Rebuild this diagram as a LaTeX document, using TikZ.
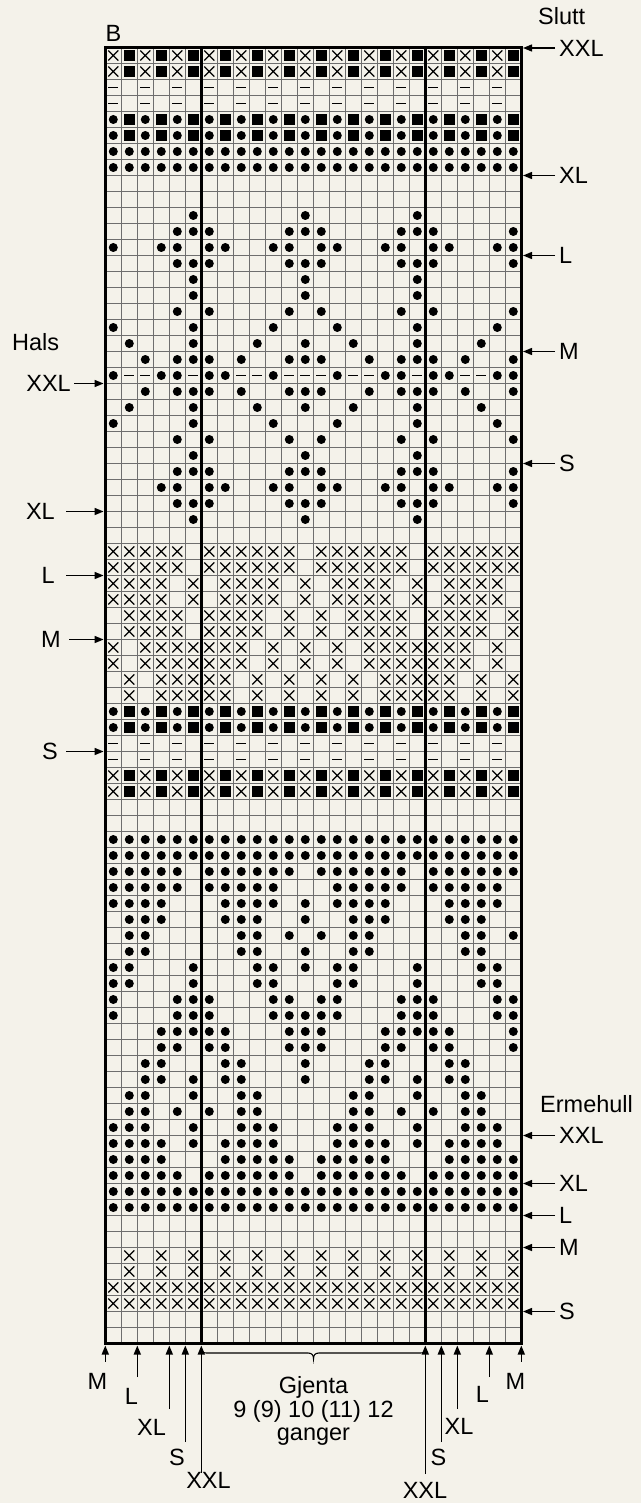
\documentclass[tikz,border=0pt]{standalone}
\usepackage{fontspec}
\setmainfont{Liberation Sans}
\usetikzlibrary{arrows.meta}
\definecolor{bgc}{HTML}{F4F2EA}
\definecolor{gridc}{HTML}{6E6E6E}
% cell centre: x = 97.3+16c, y = 39.5+16r
\newcommand\chD[2]{\foreach \c in {#2}{\fill ({97.3+16*\c},{39.5+16*#1}) circle[radius=4.5pt];}}
\newcommand\chS[2]{\foreach \c in {#2}{\fill ({97.3+16*\c-5.6},{39.5+16*#1-5.6}) rectangle ++(11.2,11.2);}}
\newcommand\chX[2]{\foreach \c in {#2}{\draw[line width=1.3pt] ({97.3+16*\c-5},{39.5+16*#1-5}) -- ++(10,10) ({97.3+16*\c-5},{39.5+16*#1+5}) -- ++(10,-10);}}
\newcommand\chM[2]{\foreach \c in {#2}{\draw[line width=1.6pt] ({97.3+16*\c-5},{39.5+16*#1}) -- ++(10,0);}}
\tikzset{
  lab/.style={font=\fontsize{23.5pt}{23.5pt}\selectfont, inner sep=0pt},
  arr/.style={line width=1.4pt, -{Triangle[length=9pt,width=7pt]}},
  gline/.style={gridc, line width=1.3pt},
  thick line/.style={black, line width=3.2pt}
}
\begin{document}
\begin{tikzpicture}[x=1pt,y=-1pt]
\useasboundingbox (0,0) rectangle (641,1503);
\fill[bgc] (0,0) rectangle (641,1503);
% grid
\foreach \k in {1,...,25} \draw[gline] ({105.3+16*\k},47.5) -- ({105.3+16*\k},1343.5);
\foreach \k in {1,...,80} \draw[gline] (105.3,{47.5+16*\k}) -- (521.3,{47.5+16*\k});
% symbols
\foreach \r in {1,2}{\chX{\r}{1,3,...,25}\chS{\r}{2,4,...,26}}
\foreach \r in {3,4}{\chM{\r}{1,3,...,25}}
\foreach \r in {5,6}{\chD{\r}{1,3,...,25}\chS{\r}{2,4,...,26}}
\foreach \r in {7,8}{\chD{\r}{1,...,26}}
\foreach \r in {11,15,16,26,30}{\chD{\r}{6,13,20}}
\foreach \r in {12,14,27,29}{\chD{\r}{5,6,7,12,13,14,19,20,21,26}}
\chD{13}{1,4,5,7,8,11,12,14,15,18,19,21,22,25,26}
\foreach \r in {17,25}{\chD{\r}{5,7,12,14,19,21,26}}
\foreach \r in {18,24}{\chD{\r}{1,6,11,15,20,25}}
\foreach \r in {19,23}{\chD{\r}{2,6,10,13,16,20,24}}
\foreach \r in {20,22}{\chD{\r}{3,5,6,7,9,12,13,14,17,19,20,21,23,26}}
\chD{21}{1,4,5,7,8,11,15,18,19,21,22,25,26}
\chM{21}{2,3,6,9,10,12,13,14,16,17,20,23,24}
\chD{28}{4,5,7,8,11,12,14,15,18,19,21,22,25,26}
\foreach \r in {32,33}{\chX{\r}{1,2,3,4,5,7,8,9,10,11,12,14,15,16,17,18,19,21,22,23,24,25,26}}
\foreach \r in {34,35}{\chX{\r}{1,2,3,4,6,8,9,10,11,13,15,16,17,18,20,22,23,24,25}}
\foreach \r in {36,37}{\chX{\r}{2,3,4,5,7,8,9,10,12,14,16,17,18,19,21,22,23,24,26}}
\foreach \r in {38,39}{\chX{\r}{1,3,4,5,6,7,8,9,11,13,15,17,18,19,20,21,22,23,25}}
\foreach \r in {40,41}{\chX{\r}{2,4,5,6,7,8,10,12,14,16,18,19,20,21,22,24,26}}
\foreach \r in {42,43}{\chD{\r}{1,3,...,25}\chS{\r}{2,4,...,26}}
\foreach \r in {44,45}{\chM{\r}{1,3,...,25}}
\foreach \r in {46,47}{\chX{\r}{1,3,...,25}\chS{\r}{2,4,...,26}}
\foreach \r in {50,51,72,73}{\chD{\r}{1,...,26}}
\foreach \r in {52,71}{\chD{\r}{1,2,3,4,5,7,8,9,10,11,12,14,15,16,17,18,19,21,22,23,24,25,26}}
\chD{53}{1,2,3,4,5,7,8,9,10,11,15,16,17,18,19,21,22,23,24,25}
\chD{54}{1,2,3,4,8,9,10,11,13,15,16,17,18,22,23,24,25}
\chD{55}{2,3,4,8,9,10,13,16,17,18,22,23,24}
\chD{56}{2,3,9,10,12,14,16,17,23,24,26}
\chD{57}{2,3,9,10,13,16,17,23,24}
\chD{58}{1,2,6,10,11,13,15,16,20,24,25}
\chD{59}{1,2,6,10,11,15,16,20,24,25}
\chD{60}{1,5,6,7,11,12,14,15,19,20,21,25,26}
\chD{61}{1,5,6,7,11,12,13,14,15,19,20,21,25,26}
\chD{62}{4,5,6,7,8,12,13,14,18,19,20,21,22,26}
\chD{63}{4,5,7,8,12,13,14,18,19,21,22,26}
\chD{64}{3,4,8,9,13,17,18,22,23}
\chD{65}{3,4,6,8,9,13,17,18,20,22,23}
\chD{66}{2,3,6,9,10,16,17,20,23,24}
\chD{67}{2,3,5,7,9,10,16,17,19,21,23,24}
\chD{68}{1,2,3,6,9,10,11,15,16,17,20,23,24,25}
\chD{69}{1,2,3,4,6,8,9,10,11,15,16,17,18,20,22,23,24,25}
\chD{70}{1,2,3,4,8,9,10,11,12,14,15,16,17,18,22,23,24,25,26}
\foreach \r in {76,77}{\chX{\r}{2,4,...,26}}
\foreach \r in {78,79}{\chX{\r}{1,...,26}}
% thick lines and border
\draw[thick line] (201.3,47.5) -- (201.3,1343.5);
\draw[thick line] (425.3,47.5) -- (425.3,1343.5);
\draw[thick line] (105.3,47.5) rectangle (521.3,1343.5);
% top labels
\node[lab] (B) at (113.5,33) {B};
\node[lab, anchor=west] (slutt) at (538,16) {Slutt};
% right labels (top)
\foreach \nm/\yy in {XXL/48, XL/175.5, L/255.5, M/351.5, S/463.5}{
  \node[lab, anchor=west] (rt\nm) at (559,\yy) {\nm};
  \coordinate (rtc\nm) at (555,\yy);
  \draw[arr] (rtc\nm) -- (523,\yy);
}
% right labels (bottom)
\node[lab, anchor=west] (ermehull) at (540,1104) {Ermehull};
\foreach \nm/\yy in {XXL/1135.5, XL/1183.5, L/1215.5, M/1247.5, S/1311.5}{
  \node[lab, anchor=west] (rb\nm) at (559,\yy) {\nm};
  \coordinate (rbc\nm) at (555,\yy);
  \draw[arr] (rbc\nm) -- (523,\yy);
}
% left labels
\node[lab, anchor=west] (hals) at (12,342) {Hals};
\node[lab, anchor=east] (lXXL) at (71,383.5) {XXL};
\draw[arr] (74,383.5) -- (103.6,383.5);
\foreach \nm/\yy/\ex/\ax in {XL/511.5/55/66, L/575.5/55/66, M/639.5/61/69, S/751.5/58/66}{
  \node[lab, anchor=east] (l\nm) at (\ex,\yy) {\nm};
  \draw[arr] (\ax,\yy) -- (103.6,\yy);
}
% bottom arrows
\foreach \nm/\xx/\yb in {bM/105.3/1361.7, bL/137.3/1377, bXL/169.3/1409, bS/185.3/1442, bXXL/201.3/1473,
                         cXXL/425.3/1474, cS/441.3/1442, cXL/457.3/1409, cL/489.3/1377, cM/521.3/1361.7}{
  \coordinate (\nm) at (\xx,\yb);
  \draw[arr] (\nm) -- (\xx,1345.5);
}
\node[lab] (tbM) at (97.5,1381) {M};
\node[lab] (tbL) at (131.5,1396) {L};
\node[lab] (tbXL) at (151.5,1427) {XL};
\node[lab] (tbS) at (177,1457) {S};
\node[lab] (tbXXL) at (208.5,1480.5) {XXL};
\node[lab] (tcXXL) at (425,1490.5) {XXL};
\node[lab] (tcS) at (438.5,1457) {S};
\node[lab] (tcXL) at (459,1426.5) {XL};
\node[lab] (tcL) at (482.3,1394) {L};
\node[lab] (tcM) at (515.3,1381) {M};
% brace
\draw[line width=1.1pt] (201.3,1348) .. controls (201.3,1352) and (203,1353) .. (207,1353) -- (308,1353)
  .. controls (312,1353) and (313.5,1355) .. (313.5,1359) .. controls (313.5,1355) and (315,1353) .. (319,1353)
  -- (420,1353) .. controls (424,1353) and (425.3,1352) .. (425.3,1348);
\node[lab, anchor=base] (g1) at (313.5,1393.5) {Gjenta};
\node[lab, anchor=base] (g2) at (313.5,1417) {9 (9) 10 (11) 12};
\node[lab, anchor=base] (g3) at (313.5,1440.5) {ganger};
\end{tikzpicture}
\end{document}
